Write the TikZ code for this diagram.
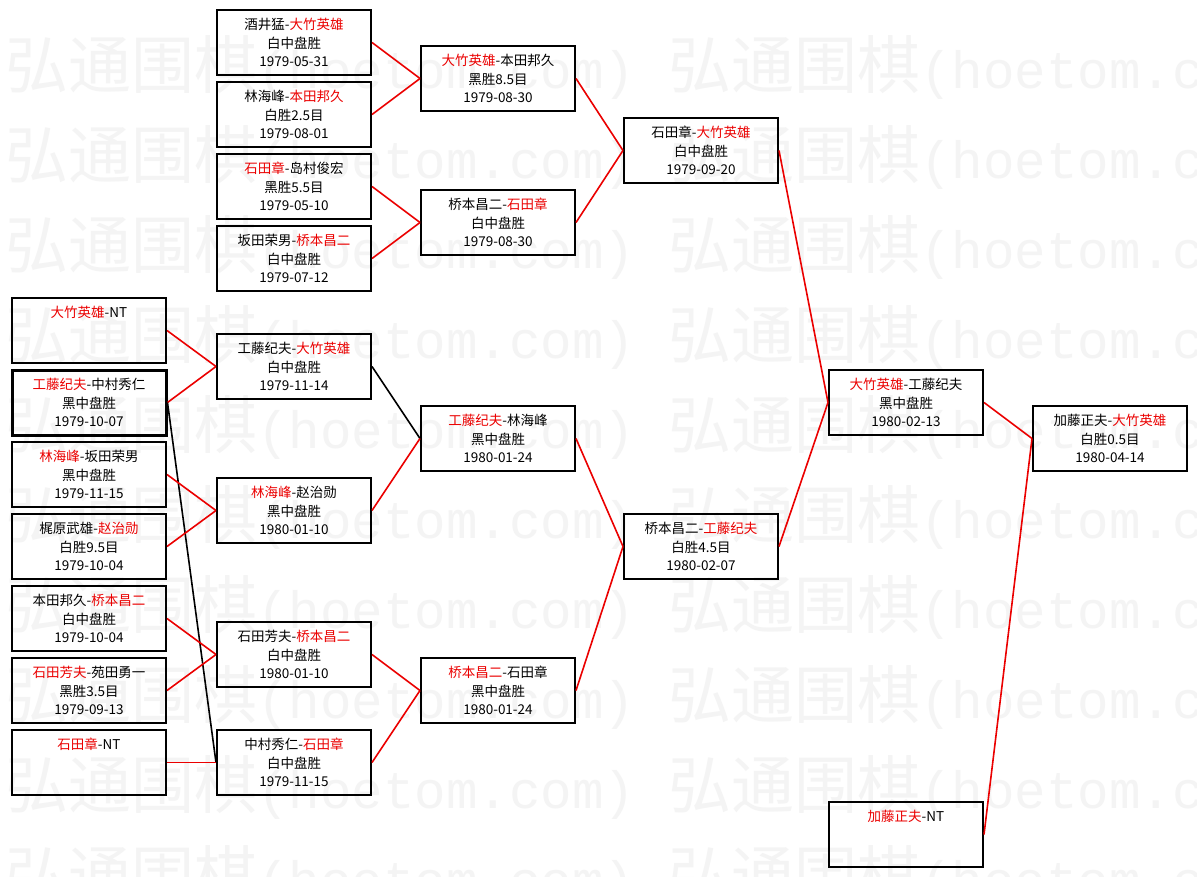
\documentclass[tikz,border=0pt]{standalone}
\usepackage{fontspec}
\setmainfont{Noto Sans CJK SC}
\newfontfamily\wmcjk{Noto Sans CJK SC}
\newfontfamily\wmmono{Liberation Mono}
\definecolor{wred}{RGB}{235,0,0}
\definecolor{wmgray}{RGB}{244,244,244}
\newcommand{\rdname}[1]{\textcolor{wred}{#1}}
\tikzset{
  game/.style={draw=black, line width=2pt, minimum width=154pt, minimum height=65pt,
    inner sep=0pt, align=center, font=\fontsize{13.5}{18.5}\selectfont},
  thickgame/.style={game, line width=3pt},
  win/.style={draw=wred, line width=1.6pt},
  lose/.style={draw=black, line width=1.6pt},
  wm/.style={anchor=west, inner sep=0pt, text=wmgray, font=\wmcjk\fontsize{63}{70}\selectfont},
}
\begin{document}
\begin{tikzpicture}[x=1pt,y=-1pt]
\useasboundingbox (0,0) rectangle (1197,877);
\fill[white] (0,0) rectangle (1197,877);
% watermark
\begin{scope}
\clip (0,0) rectangle (1197,877);
\foreach \k in {0,...,9} {
  \node[wm] (wma\k) at (5,{67+90*\k}) {弘通围棋{\wmmono\fontsize{52.5}{60}\selectfont(hoetom.com)}};
  \node[wm] (wmb\k) at (668,{67+90*\k}) {弘通围棋{\wmmono\fontsize{52.5}{60}\selectfont(hoetom.com)}};
}
\end{scope}
% column 1
\node[game] (a1) at (89,330.5) {\rdname{大竹英雄}-NT\\~\\~};
\node[thickgame] (a2) at (89,402.5) {\rdname{工藤纪夫}-中村秀仁\\黑中盘胜\\1979-10-07};
\node[game] (a3) at (89,474.5) {\rdname{林海峰}-坂田荣男\\黑中盘胜\\1979-11-15};
\node[game] (a4) at (89,546.5) {梶原武雄-\rdname{赵治勋}\\白胜9.5目\\1979-10-04};
\node[game] (a5) at (89,618.5) {本田邦久-\rdname{桥本昌二}\\白中盘胜\\1979-10-04};
\node[game] (a6) at (89,690.5) {\rdname{石田芳夫}-苑田勇一\\黑胜3.5目\\1979-09-13};
\node[game] (a7) at (89,762.5) {\rdname{石田章}-NT\\~\\~};
% column 2
\node[game] (b1) at (294,42.5) {酒井猛-\rdname{大竹英雄}\\白中盘胜\\1979-05-31};
\node[game] (b2) at (294,114.5) {林海峰-\rdname{本田邦久}\\白胜2.5目\\1979-08-01};
\node[game] (b3) at (294,186.5) {\rdname{石田章}-岛村俊宏\\黑胜5.5目\\1979-05-10};
\node[game] (b4) at (294,258.5) {坂田荣男-\rdname{桥本昌二}\\白中盘胜\\1979-07-12};
\node[game] (b5) at (294,366.5) {工藤纪夫-\rdname{大竹英雄}\\白中盘胜\\1979-11-14};
\node[game] (b6) at (294,510.5) {\rdname{林海峰}-赵治勋\\黑中盘胜\\1980-01-10};
\node[game] (b7) at (294,654.5) {石田芳夫-\rdname{桥本昌二}\\白中盘胜\\1980-01-10};
\node[game] (b8) at (294,762.5) {中村秀仁-\rdname{石田章}\\白中盘胜\\1979-11-15};
% column 3
\node[game] (d1) at (498,78.5) {\rdname{大竹英雄}-本田邦久\\黑胜8.5目\\1979-08-30};
\node[game] (d2) at (498,222.5) {桥本昌二-\rdname{石田章}\\白中盘胜\\1979-08-30};
\node[game] (d3) at (498,438.5) {\rdname{工藤纪夫}-林海峰\\黑中盘胜\\1980-01-24};
\node[game] (d4) at (498,690.5) {\rdname{桥本昌二}-石田章\\黑中盘胜\\1980-01-24};
% column 4
\node[game] (e1) at (701,150.5) {石田章-\rdname{大竹英雄}\\白中盘胜\\1979-09-20};
\node[game] (e2) at (701,546.5) {桥本昌二-\rdname{工藤纪夫}\\白胜4.5目\\1980-02-07};
% column 5
\node[game] (f1) at (906,402.5) {\rdname{大竹英雄}-工藤纪夫\\黑中盘胜\\1980-02-13};
\node[game] (f2) at (906,834.5) {\rdname{加藤正夫}-NT\\~\\~};
% column 6
\node[game] (g1) at (1110,438.5) {加藤正夫-\rdname{大竹英雄}\\白胜0.5目\\1980-04-14};
% connectors
\draw[win] (a1.east) -- (b5.west);
\draw[win] (a2.east) -- (b5.west);
\draw[lose] (a2.east) -- (b8.west);
\draw[win] (a3.east) -- (b6.west);
\draw[win] (a4.east) -- (b6.west);
\draw[win] (a5.east) -- (b7.west);
\draw[win] (a6.east) -- (b7.west);
\draw[win] (a7.east) -- (b8.west);
\draw[win] (b1.east) -- (d1.west);
\draw[win] (b2.east) -- (d1.west);
\draw[win] (b3.east) -- (d2.west);
\draw[win] (b4.east) -- (d2.west);
\draw[lose] (b5.east) -- (d3.west);
\draw[win] (b6.east) -- (d3.west);
\draw[win] (b7.east) -- (d4.west);
\draw[win] (b8.east) -- (d4.west);
\draw[win] (d1.east) -- (e1.west);
\draw[win] (d2.east) -- (e1.west);
\draw[win] (d3.east) -- (e2.west);
\draw[win] (d4.east) -- (e2.west);
\draw[win] (e1.east) -- (f1.west);
\draw[win] (e2.east) -- (f1.west);
\draw[win] (f1.east) -- (g1.west);
\draw[win] (f2.east) -- (g1.west);
\end{tikzpicture}
\end{document}
